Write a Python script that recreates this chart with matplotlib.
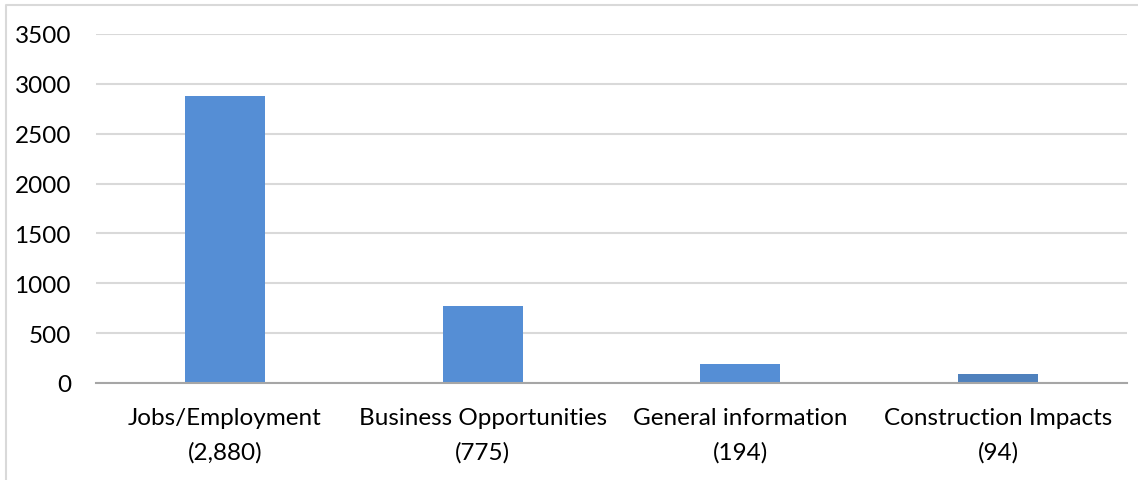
import matplotlib.pyplot as plt
from matplotlib.lines import Line2D

categories = ["Jobs/Employment\n(2,880)", "Business Opportunities\n(775)",
              "General information\n(194)", "Construction Impacts\n(94)"]
values = [2880, 775, 194, 94]
bar_colors = ["#558ED5", "#558ED5", "#558ED5", "#4F81BD"]
yticks = [0, 500, 1000, 1500, 2000, 2500, 3000, 3500]

plt.rcParams["font.family"] = ["Lato", "DejaVu Sans"]

fig = plt.figure(figsize=(11.38, 4.81), dpi=100)
# chart frame (only top and left edges are visible in the crop)
fig.lines.append(Line2D([5.5 / 1138, 5.5 / 1138, 1], [0, 1 - 5.5 / 481, 1 - 5.5 / 481],
                        transform=fig.transFigure, color="#D9D9D9", linewidth=1.5))
ax = fig.add_axes([96 / 1138, 1 - 384 / 481, (1127 - 96) / 1138, (384 - 35) / 481])

x = range(len(values))
ax.bar(x, values, width=0.31, color=bar_colors, zorder=3)
ax.set_xlim(-0.5, 3.5)
ax.set_ylim(0, 3500)
ax.set_yticks(yticks)
ax.set_xticks(list(x))
ax.set_xticklabels(categories, fontsize=17.5, linespacing=1.75)
ax.tick_params(axis="y", labelsize=17.5, length=0, pad=18)
ax.tick_params(axis="x", length=0, pad=17)
ax.grid(axis="y", color="#D9D9D9", linewidth=1.5, zorder=0)
for s in ["top", "right", "left"]:
    ax.spines[s].set_visible(False)
ax.spines["bottom"].set_color("#A6A6A6")
ax.spines["bottom"].set_linewidth(1.5)
ax.spines["bottom"].set_zorder(4)

fig.savefig("out.png", dpi=100)
